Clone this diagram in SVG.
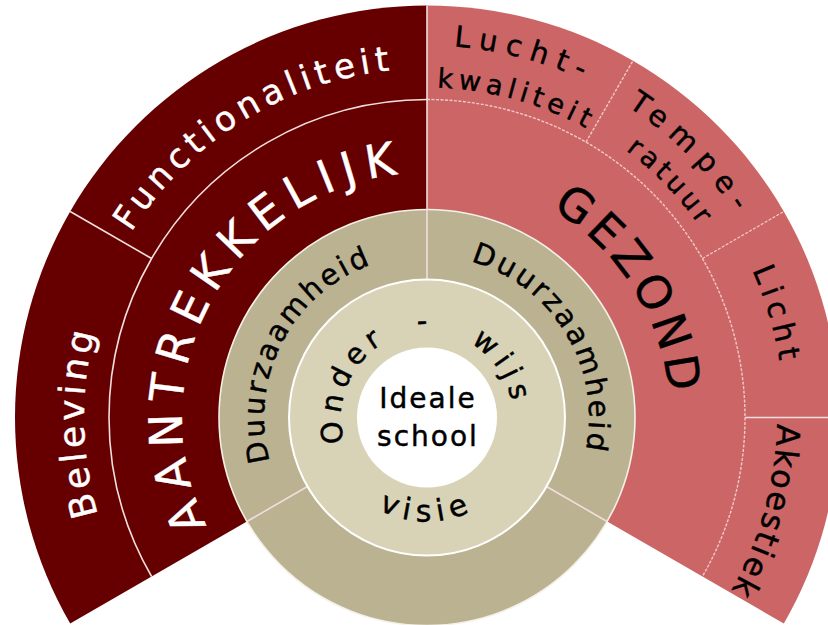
<svg xmlns="http://www.w3.org/2000/svg" xmlns:xlink="http://www.w3.org/1999/xlink" width="828" height="625" viewBox="0 0 828 625">
<style>
text{font-family:"DejaVu Sans","Liberation Sans",sans-serif}
.w{fill:#ffffff;stroke:#ffffff;stroke-width:0.45}
.b{fill:#000000;stroke:#000000;stroke-width:0.45}
.sep{stroke:#f2dede;stroke-width:1.6;fill:none}
.dash{stroke:#f2c8c8;stroke-width:1.4;fill:none;stroke-dasharray:3 1.5}
</style>
<defs>
<path id="pFunc" d="M78.14,427.24 A349,349 0 0 1 592.99,110.5"/>
<path id="pBel" d="M259.66,716.91 A343,343 0 0 1 251.37,122.88"/>
<path id="pAan" d="M255.28,592.25 A245,245 0 0 1 488.34,180.3"/>
<path id="pDuL" d="M306.82,527.62 A163,163 0 0 1 448.28,255.9"/>
<path id="pDuR" d="M396.09,258.48 A162,162 0 0 1 552.9,519.45"/>
<path id="pGez" d="M376.48,179.79 A243,243 0 0 1 618.49,567.1"/>
<path id="pOnd" d="M368.35,480.4 A86,86 0 0 1 431.5,331.62"/>
<path id="pHy" d="M379.62,344.54 A87,87 0 0 1 466.5,339.98"/>
<path id="pWijs" d="M421.75,331.66 A86,86 0 0 1 503.96,455.87"/>
<path id="pVis" d="M336.93,469.5 A104,104 0 0 0 517.07,469.5"/>
<path id="pLu" d="M269.79,80.35 A372,372 0 0 1 731.72,204.13"/>
<path id="pKw" d="M291.2,116.74 A330,330 0 0 1 699.61,231.54"/>
<path id="pTe" d="M460.53,49.02 A370,370 0 0 1 795.7,386.54"/>
<path id="pRa" d="M461.81,86.32 A333,333 0 0 1 759.19,394.27"/>
<path id="pLi" d="M625.08,120.49 A357,357 0 0 1 753.89,561"/>
<path id="pAk" d="M745.49,272.36 A350,350 0 0 1 625.24,705.95"/>
</defs>

<g id="aantrekkelijk-sector">
<path d="M427,417.5 L70.2,623.5 A412,412 0 0 1 427,5.5 Z" fill="#660000"/>
</g>
<g id="gezond-sector">
<path d="M427,417.5 L427,5.5 A412,412 0 0 1 783.8,623.5 Z" fill="#cc6666"/>
</g>
<g id="duurzaamheid-ring">
<circle cx="427" cy="417.5" r="208" fill="#bbb292" stroke="#f4f1e8" stroke-width="1.6"/>
</g>

<g id="connectors">
<path class="sep" d="M151.6,576.5 A318,318 0 0 1 427,99.5"/>
<path class="dash" d="M427,99.5 A318,318 0 0 1 702.4,576.5"/>
<line class="sep" x1="151.6" y1="258.5" x2="70.2" y2="211.5"/>
<line class="sep" x1="427" y1="5.5" x2="427" y2="280"/>
<line class="dash" x1="586" y1="142.1" x2="633" y2="60.7"/>
<line class="dash" x1="702.4" y1="258.5" x2="783.8" y2="211.5"/>
<line class="sep" x1="745" y1="417.5" x2="840" y2="417.5"/>
<line class="sep" x1="307.5" y1="486.5" x2="246.9" y2="521.5" stroke="#f4f1e8"/>
<line class="sep" x1="546.5" y1="486.5" x2="607.1" y2="521.5" stroke="#f4f1e8"/>
</g>

<g id="onderwijs-ring">
<circle cx="427" cy="417.5" r="138" fill="#d8d3b6" stroke="#ffffff" stroke-width="2"/>
</g>
<g id="ideale-school">
<circle cx="427" cy="417.5" r="70" fill="#ffffff"/>
<text class="b" font-size="28" letter-spacing="2" text-anchor="middle" x="428" y="408">Ideale</text>
<text class="b" font-size="28" letter-spacing="2" text-anchor="middle" x="428" y="446">school</text>
</g>

<g id="functionaliteit">
<text class="w" font-size="34" letter-spacing="5.3"><textPath xlink:href="#pFunc" href="#pFunc" startOffset="50%" text-anchor="middle">Functionaliteit</textPath></text>
</g>
<g id="beleving">
<text class="w" font-size="36" letter-spacing="4"><textPath xlink:href="#pBel" href="#pBel" startOffset="50%" text-anchor="middle">Beleving</textPath></text>
</g>
<g id="aantrekkelijk">
<text class="w" font-size="46" letter-spacing="8.9"><textPath xlink:href="#pAan" href="#pAan" startOffset="50%" text-anchor="middle">AANTREKKELIJK</textPath></text>
</g>
<g id="duurzaamheid-links">
<text class="b" font-size="29" letter-spacing="2.7"><textPath xlink:href="#pDuL" href="#pDuL" startOffset="50%" text-anchor="middle">Duurzaamheid</textPath></text>
</g>
<g id="duurzaamheid-rechts">
<text class="b" font-size="29" letter-spacing="2.7"><textPath xlink:href="#pDuR" href="#pDuR" startOffset="50%" text-anchor="middle">Duurzaamheid</textPath></text>
</g>
<g id="gezond">
<text class="b" font-size="46" letter-spacing="4.8"><textPath xlink:href="#pGez" href="#pGez" startOffset="50%" text-anchor="middle">GEZOND</textPath></text>
</g>
<g id="onderwijs">
<text class="b" font-size="29" letter-spacing="6.1"><textPath xlink:href="#pOnd" href="#pOnd" startOffset="50%" text-anchor="middle">Onder</textPath></text>
<text class="b" font-size="29"><textPath xlink:href="#pHy" href="#pHy" startOffset="50%" text-anchor="middle">-</textPath></text>
<text class="b" font-size="29" letter-spacing="6.1"><textPath xlink:href="#pWijs" href="#pWijs" startOffset="50%" text-anchor="middle">wijs</textPath></text>
</g>
<g id="visie">
<text class="b" font-size="30" letter-spacing="6.4"><textPath xlink:href="#pVis" href="#pVis" startOffset="50%" text-anchor="middle">visie</textPath></text>
</g>
<g id="luchtkwaliteit">
<text class="b" font-size="29" letter-spacing="8.5"><textPath xlink:href="#pLu" href="#pLu" startOffset="50%" text-anchor="middle">Lucht-</textPath></text>
<text class="b" font-size="27" letter-spacing="5.1"><textPath xlink:href="#pKw" href="#pKw" startOffset="50%" text-anchor="middle">kwaliteit</textPath></text>
</g>
<g id="temperatuur">
<text class="b" font-size="29" letter-spacing="9.1"><textPath xlink:href="#pTe" href="#pTe" startOffset="50%" text-anchor="middle">Tempe-</textPath></text>
<text class="b" font-size="27" letter-spacing="4.2"><textPath xlink:href="#pRa" href="#pRa" startOffset="50%" text-anchor="middle">ratuur</textPath></text>
</g>
<g id="licht">
<text class="b" font-size="30" letter-spacing="5.7"><textPath xlink:href="#pLi" href="#pLi" startOffset="50%" text-anchor="middle">Licht</textPath></text>
</g>
<g id="akoestiek">
<text class="b" font-size="32" letter-spacing="2.45"><textPath xlink:href="#pAk" href="#pAk" startOffset="50%" text-anchor="middle">Akoestiek</textPath></text>
</g>
</svg>
